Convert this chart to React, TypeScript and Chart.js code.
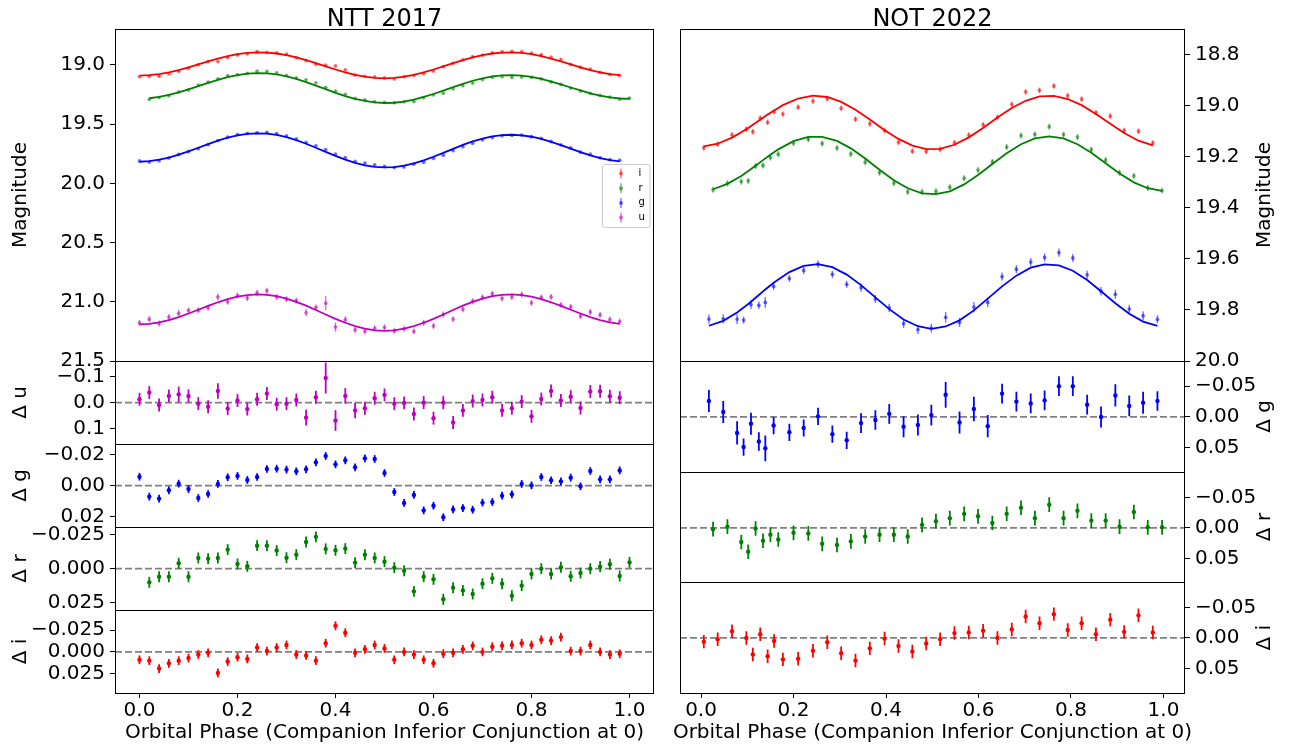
import React, { useEffect, useRef } from 'react';
import { Chart, registerables } from 'chart.js';
Chart.register(...registerables);

const FONT = '"DejaVu Sans", "Liberation Sans", sans-serif';

// ---------------- NTT 2017 (left) ----------------
const nttTitle = 'NTT 2017';
const notTitle = 'NOT 2022';
const xTitle = 'Orbital Phase (Companion Inferior Conjunction at 0)';
const phaseTicks = [0, 0.2, 0.4, 0.6, 0.8, 1.0];
const nttMagTicks = [19.0, 19.5, 20.0, 20.5, 21.0, 21.5];
const nttUTicks = [-0.1, 0, 0.1];
const nttGTicks = [-0.02, 0, 0.02];
const nttRTicks = [-0.025, 0, 0.025];
const nttITicks = [-0.025, 0, 0.025];
const notMagTicks = [18.8, 19.0, 19.2, 19.4, 19.6, 19.8, 20.0];
const notResTicks = [-0.05, 0, 0.05];
const legendBands = ['i', 'r', 'g', 'u'];

const nttPhase = [0.00,0.02,0.04,0.06,0.08,0.10,0.12,0.14,0.16,0.18,0.20,0.22,0.24,0.26,0.28,0.30,0.32,0.34,0.36,0.38,0.40,0.42,0.44,0.46,0.48,0.50,0.52,0.54,0.56,0.58,0.60,0.62,0.64,0.66,0.68,0.70,0.72,0.74,0.76,0.78,0.80,0.82,0.84,0.86,0.88,0.90,0.92,0.94,0.96,0.98];
const nttPhaseR = [0.02,0.04,0.06,0.08,0.10,0.12,0.14,0.16,0.18,0.20,0.22,0.24,0.26,0.28,0.30,0.32,0.34,0.36,0.38,0.40,0.42,0.44,0.46,0.48,0.50,0.52,0.54,0.56,0.58,0.60,0.62,0.64,0.66,0.68,0.70,0.72,0.74,0.76,0.78,0.80,0.82,0.84,0.86,0.88,0.90,0.92,0.94,0.96,0.98,1.00];

const nttIMag = [19.099,19.096,19.096,19.075,19.053,19.027,18.998,18.971,18.971,18.937,18.915,18.906,18.888,18.894,18.898,18.909,18.939,18.963,18.995,19.002,19.008,19.041,19.085,19.096,19.101,19.109,19.118,19.099,19.087,19.072,19.051,19.014,18.986,18.956,18.929,18.917,18.897,18.888,18.885,18.888,18.901,18.912,18.934,18.953,18.994,19.019,19.035,19.062,19.080,19.088];
const nttIModel = [19.090,19.086,19.077,19.062,19.043,19.020,18.995,18.970,18.947,18.926,18.909,18.898,18.893,18.895,18.903,18.917,18.936,18.959,18.985,19.012,19.038,19.063,19.084,19.099,19.109,19.113,19.109,19.099,19.084,19.063,19.038,19.012,18.985,18.959,18.936,18.917,18.903,18.895,18.893,18.898,18.909,18.926,18.947,18.970,18.995,19.020,19.043,19.062,19.077,19.086];
const nttIRes = [0.009,0.010,0.019,0.013,0.010,0.007,0.003,0.001,0.024,0.011,0.006,0.008,-0.005,-0.001,-0.005,-0.008,0.003,0.004,0.010,-0.010,-0.030,-0.022,0.001,-0.003,-0.008,-0.004,0.009,0.000,0.003,0.009,0.013,0.002,0.001,-0.003,-0.007,0.000,-0.006,-0.007,-0.008,-0.010,-0.008,-0.014,-0.013,-0.017,-0.001,-0.001,-0.008,0.000,0.003,0.002];
const nttIErr = 0.005;

const nttGMag = [19.811,19.820,19.809,19.785,19.756,19.731,19.707,19.673,19.638,19.609,19.588,19.578,19.571,19.569,19.580,19.599,19.625,19.654,19.683,19.714,19.754,19.783,19.814,19.829,19.843,19.857,19.866,19.861,19.837,19.821,19.788,19.762,19.723,19.690,19.661,19.632,19.613,19.598,19.594,19.592,19.606,19.619,19.646,19.674,19.701,19.736,19.754,19.782,19.799,19.804];
const nttGModel = [19.817,19.812,19.800,19.782,19.757,19.729,19.699,19.668,19.639,19.614,19.595,19.582,19.577,19.580,19.591,19.609,19.635,19.665,19.699,19.734,19.768,19.799,19.826,19.847,19.860,19.865,19.862,19.850,19.831,19.805,19.775,19.742,19.708,19.675,19.645,19.621,19.603,19.592,19.589,19.594,19.606,19.625,19.649,19.677,19.707,19.736,19.763,19.786,19.803,19.814];
const nttGRes = [-0.0058,0.0071,0.0084,0.0030,-0.0013,0.0022,0.0080,0.0054,-0.0011,-0.0054,-0.0063,-0.0037,-0.0056,-0.0108,-0.0110,-0.0104,-0.0093,-0.0106,-0.0151,-0.0192,-0.0138,-0.0164,-0.0119,-0.0177,-0.0173,-0.0082,0.0041,0.0112,0.0060,0.0160,0.0130,0.0205,0.0154,0.0145,0.0156,0.0110,0.0106,0.0065,0.0056,-0.0011,-0.0002,-0.0056,-0.0035,-0.0028,-0.0052,0.0004,-0.0095,-0.0041,-0.0041,-0.0099];
const nttGErr = 0.0025;

const nttRMag = [19.291,19.275,19.259,19.227,19.211,19.170,19.144,19.117,19.089,19.082,19.072,19.052,19.054,19.067,19.088,19.108,19.125,19.151,19.190,19.221,19.248,19.282,19.294,19.309,19.316,19.318,19.310,19.309,19.276,19.252,19.238,19.201,19.175,19.152,19.123,19.104,19.099,19.105,19.102,19.105,19.118,19.143,19.163,19.195,19.219,19.239,19.257,19.271,19.288,19.280];
const nttRModel = [19.281,19.270,19.253,19.231,19.205,19.178,19.151,19.125,19.103,19.085,19.073,19.068,19.071,19.080,19.096,19.118,19.144,19.174,19.204,19.235,19.262,19.286,19.304,19.316,19.321,19.319,19.309,19.292,19.270,19.245,19.216,19.187,19.159,19.133,19.112,19.097,19.088,19.085,19.090,19.101,19.118,19.140,19.164,19.190,19.215,19.239,19.259,19.274,19.283,19.285];
const nttRRes = [0.0100,0.0059,0.0059,-0.0039,0.0059,-0.0078,-0.0073,-0.0078,-0.0139,-0.0034,-0.0017,-0.0168,-0.0168,-0.0132,-0.0080,-0.0102,-0.0195,-0.0232,-0.0144,-0.0134,-0.0146,-0.0044,-0.0102,-0.0078,-0.0051,-0.0007,0.0015,0.0166,0.0059,0.0078,0.0224,0.0139,0.0159,0.0185,0.0110,0.0071,0.0110,0.0198,0.0124,0.0039,0.0000,0.0039,-0.0010,0.0056,0.0032,0.0000,-0.0015,-0.0032,0.0054,-0.0046];
const nttRErr = 0.004;

const nttUMag = [21.178,21.147,21.183,21.129,21.097,21.073,21.071,21.050,20.959,21.000,20.948,20.968,20.924,20.906,20.959,20.977,20.991,21.091,21.048,21.012,21.213,21.151,21.236,21.249,21.224,21.216,21.245,21.228,21.250,21.177,21.204,21.107,21.146,21.063,20.995,20.963,20.932,20.971,20.959,20.939,21.009,20.963,20.959,21.026,21.044,21.120,21.086,21.111,21.149,21.167];
const nttUModel = [21.191,21.186,21.174,21.155,21.129,21.099,21.067,21.034,21.004,20.977,20.956,20.943,20.937,20.941,20.953,20.973,21.001,21.033,21.069,21.107,21.144,21.177,21.206,21.227,21.241,21.246,21.241,21.227,21.206,21.177,21.144,21.107,21.069,21.033,21.001,20.973,20.953,20.941,20.937,20.943,20.956,20.977,21.004,21.034,21.067,21.099,21.129,21.155,21.174,21.186];
const nttURes = [-0.013,-0.039,0.009,-0.026,-0.032,-0.026,0.004,0.016,-0.045,0.023,-0.008,0.025,-0.013,-0.035,0.006,0.004,-0.010,0.058,-0.021,-0.095,0.069,-0.026,0.030,0.022,-0.017,-0.030,0.004,0.001,0.044,0.000,0.060,0.000,0.077,0.030,-0.006,-0.010,-0.021,0.030,0.022,-0.004,0.053,-0.014,-0.045,-0.008,-0.023,0.021,-0.043,-0.044,-0.025,-0.019];
const nttUErr = [0.025,0.025,0.025,0.025,0.03,0.025,0.025,0.025,0.03,0.025,0.025,0.025,0.025,0.025,0.025,0.025,0.025,0.03,0.025,0.06,0.04,0.03,0.03,0.025,0.025,0.025,0.025,0.025,0.025,0.025,0.025,0.025,0.025,0.025,0.025,0.025,0.025,0.025,0.025,0.025,0.025,0.025,0.025,0.025,0.025,0.025,0.025,0.025,0.025,0.025];

// ---------------- NOT 2022 (right) ----------------
const notGPhase = [0.017,0.048,0.078,0.092,0.108,0.125,0.139,0.157,0.191,0.222,0.253,0.284,0.315,0.346,0.377,0.407,0.438,0.469,0.498,0.529,0.559,0.590,0.620,0.651,0.682,0.713,0.743,0.774,0.804,0.835,0.865,0.896,0.926,0.956,0.987];
const notGMag = [19.836,19.835,19.836,19.840,19.779,19.782,19.771,19.708,19.677,19.646,19.621,19.661,19.700,19.713,19.757,19.792,19.854,19.877,19.871,19.829,19.849,19.789,19.771,19.670,19.641,19.613,19.595,19.576,19.597,19.663,19.727,19.739,19.797,19.823,19.837];
const notGModel = [19.862,19.843,19.810,19.791,19.768,19.742,19.720,19.694,19.652,19.628,19.621,19.633,19.662,19.703,19.751,19.797,19.838,19.864,19.874,19.865,19.841,19.802,19.756,19.708,19.666,19.635,19.622,19.626,19.647,19.683,19.727,19.774,19.815,19.846,19.863];
const notGRes = [-0.026,-0.008,0.026,0.049,0.011,0.040,0.051,0.014,0.025,0.018,-0.001,0.028,0.038,0.010,0.005,-0.005,0.016,0.013,-0.003,-0.036,0.009,-0.013,0.015,-0.038,-0.025,-0.022,-0.027,-0.050,-0.050,-0.020,0.000,-0.035,-0.018,-0.023,-0.026];
const notGErr = [0.018,0.018,0.019,0.014,0.018,0.015,0.021,0.014,0.014,0.014,0.014,0.014,0.014,0.016,0.016,0.016,0.017,0.017,0.017,0.021,0.018,0.020,0.018,0.016,0.016,0.016,0.016,0.016,0.016,0.016,0.017,0.018,0.017,0.018,0.016];

const notRPhase = [0.026,0.057,0.087,0.102,0.118,0.134,0.150,0.167,0.200,0.232,0.262,0.294,0.324,0.355,0.386,0.417,0.447,0.478,0.508,0.538,0.569,0.599,0.630,0.661,0.692,0.722,0.753,0.784,0.814,0.844,0.875,0.905,0.936,0.966,0.997];
const notRMag = [19.330,19.305,19.298,19.295,19.237,19.235,19.204,19.191,19.147,19.132,19.149,19.167,19.190,19.222,19.263,19.304,19.338,19.338,19.336,19.320,19.285,19.253,19.221,19.163,19.118,19.113,19.083,19.114,19.124,19.173,19.214,19.263,19.276,19.323,19.333];
const notRModel = [19.328,19.307,19.276,19.257,19.236,19.214,19.193,19.172,19.140,19.123,19.123,19.139,19.168,19.208,19.252,19.293,19.324,19.344,19.347,19.336,19.309,19.272,19.229,19.187,19.152,19.129,19.121,19.129,19.152,19.185,19.226,19.266,19.301,19.324,19.334];
const notRRes = [0.002,-0.002,0.023,0.039,0.001,0.021,0.011,0.019,0.008,0.009,0.026,0.028,0.022,0.014,0.011,0.011,0.014,-0.005,-0.011,-0.016,-0.023,-0.019,-0.008,-0.023,-0.033,-0.016,-0.038,-0.016,-0.028,-0.012,-0.012,-0.002,-0.026,-0.001,-0.001];
const notRErr = 0.012;

const notIPhase = [0.006,0.036,0.067,0.098,0.112,0.128,0.144,0.158,0.177,0.210,0.242,0.273,0.303,0.334,0.365,0.397,0.427,0.457,0.487,0.517,0.548,0.579,0.610,0.641,0.672,0.702,0.732,0.763,0.793,0.823,0.854,0.885,0.915,0.946,0.977];
const notIMag = [19.166,19.152,19.115,19.093,19.103,19.050,19.066,19.025,19.034,19.007,18.983,18.974,19.011,19.054,19.072,19.098,19.144,19.179,19.180,19.172,19.146,19.116,19.076,19.047,18.996,18.947,18.941,18.924,18.962,18.975,19.028,19.042,19.098,19.101,19.147];
const notIModel = [19.160,19.150,19.126,19.093,19.076,19.056,19.036,19.020,18.999,18.973,18.962,18.967,18.986,19.017,19.055,19.097,19.131,19.157,19.171,19.170,19.154,19.125,19.088,19.047,19.010,18.982,18.965,18.963,18.975,18.999,19.034,19.072,19.108,19.138,19.156];
const notIRes = [0.006,0.002,-0.011,0.000,0.027,-0.006,0.030,0.005,0.035,0.034,0.021,0.007,0.025,0.037,0.017,0.001,0.013,0.022,0.009,0.002,-0.008,-0.009,-0.012,0.000,-0.014,-0.035,-0.024,-0.039,-0.013,-0.024,-0.006,-0.030,-0.010,-0.037,-0.009];
const notIErr = 0.011;

// ---------------- styling ----------------
const COL: Record<string, string> = { i: '#ff0000', r: '#008000', g: '#0000ff', u: '#bf00bf' };
const MAIN_ALPHA = 0.55;

function rgba(hex: string, a: number) {
  const n = parseInt(hex.slice(1), 16);
  return `rgba(${(n >> 16) & 255},${(n >> 8) & 255},${n & 255},${a})`;
}
function fmt(v: number, d: number) {
  const s = Math.abs(v).toFixed(d);
  return v < -1e-12 ? '\u2212' + s : s;
}
function pts(xs: number[], ys: number[]) {
  return xs.map((x, k) => ({ x, y: ys[k] }));
}
function scatterDs(yAxisID: string, xs: number[], ys: number[], err: any, band: string, main: boolean) {
  const c = main ? rgba(COL[band], MAIN_ALPHA) : COL[band];
  return {
    type: 'scatter', xAxisID: 'x', yAxisID, data: pts(xs, ys), showLine: false,
    pointRadius: main ? 1.9 : 2.2, pointHoverRadius: main ? 1.9 : 2.2,
    pointBackgroundColor: c, pointBorderWidth: 0, pointBorderColor: c,
    errors: err, errColor: c, errWidth: main ? 1.4 : 1.8,
  };
}
function modelDs(yAxisID: string, xs: number[], ys: number[], band: string) {
  return {
    type: 'scatter', xAxisID: 'x', yAxisID, data: pts(xs, ys), showLine: true,
    borderColor: COL[band], borderWidth: 1.8, pointRadius: 0, pointHoverRadius: 0, tension: 0, fill: false,
  };
}

type Panel = { id: string; label: string; ticks: number[]; dec: number; min: number; max: number; weight: number; sw: number; residual: boolean };

function makeScales(panels: Panel[], side: 'left' | 'right', axisWidth: number, xmin: number, xmax: number) {
  const scales: any = {
    x: {
      type: 'linear', axis: 'x', position: 'bottom', min: xmin, max: xmax, bounds: 'data',
      afterBuildTicks: (s: any) => { s.ticks = phaseTicks.map((v) => ({ value: v })); },
      afterFit: (s: any) => { s.height = 59; },
      grid: { drawOnChartArea: false, drawTicks: true, tickLength: 5, tickColor: '#000', tickWidth: 1 },
      border: { display: false },
      ticks: { autoSkip: false, maxRotation: 0, padding: 1, color: '#000', font: { family: FONT, size: 20 }, callback: (v: any) => fmt(Number(v), 1) },
    },
  };
  for (const p of panels) {
    scales[p.id] = {
      type: 'linear', axis: 'y', position: side, stack: 'col', stackWeight: p.sw, weight: p.weight,
      reverse: true, min: p.min, max: p.max, bounds: 'data',
      afterBuildTicks: (s: any) => { s.ticks = p.ticks.map((v) => ({ value: v })); },
      afterFit: (s: any) => { s.width = axisWidth; },
      grid: { drawOnChartArea: false, drawTicks: true, tickLength: 5, tickColor: '#000', tickWidth: 1 },
      border: { display: false },
      ticks: { autoSkip: false, padding: 5, color: '#000', font: { family: FONT, size: 20 }, callback: (v: any) => fmt(Number(v), p.dec) },
    };
  }
  return scales;
}

function decorPlugin(cfg: { panels: Panel[]; title: string; yTitleX: number; legend: boolean }) {
  return {
    id: 'decor',
    beforeDatasetsDraw(chart: any) {
      const { ctx, chartArea } = chart;
      ctx.save();
      ctx.strokeStyle = '#808080';
      ctx.lineWidth = 1.8;
      ctx.setLineDash([7, 3]);
      for (const p of cfg.panels) {
        if (!p.residual) continue;
        const y = chart.scales[p.id].getPixelForValue(0);
        ctx.beginPath();
        ctx.moveTo(chartArea.left, y);
        ctx.lineTo(chartArea.right, y);
        ctx.stroke();
      }
      ctx.restore();
    },
    beforeDatasetDraw(chart: any, args: any) {
      const ds = chart.data.datasets[args.index];
      if (ds.errors == null) return;
      const meta = args.meta;
      const ys = chart.scales[meta.yAxisID];
      const { ctx, chartArea } = chart;
      ctx.save();
      ctx.beginPath();
      ctx.rect(chartArea.left, ys.top, chartArea.right - chartArea.left, ys.bottom - ys.top);
      ctx.clip();
      ctx.strokeStyle = ds.errColor;
      ctx.lineWidth = ds.errWidth;
      meta.data.forEach((el: any, k: number) => {
        const v = ds.data[k].y;
        const e = Array.isArray(ds.errors) ? ds.errors[k] : ds.errors;
        ctx.beginPath();
        ctx.moveTo(el.x, ys.getPixelForValue(v - e));
        ctx.lineTo(el.x, ys.getPixelForValue(v + e));
        ctx.stroke();
      });
      ctx.restore();
    },
    afterDraw(chart: any) {
      const { ctx, chartArea } = chart;
      ctx.save();
      // frames
      ctx.strokeStyle = '#000';
      ctx.lineWidth = 1;
      const L = Math.round(chartArea.left), R = Math.round(chartArea.right);
      for (const p of cfg.panels) {
        const s = chart.scales[p.id];
        const T = Math.round(s.top), B = Math.round(s.bottom);
        ctx.strokeRect(L + 0.5, T + 0.5, R - L - 1, B - T);
      }
      const cx = (chartArea.left + chartArea.right) / 2;
      ctx.fillStyle = '#000';
      ctx.textAlign = 'center';
      ctx.textBaseline = 'alphabetic';
      ctx.font = `24px ${FONT}`;
      ctx.fillText(cfg.title, cx, 26);
      ctx.font = `20px ${FONT}`;
      ctx.textBaseline = 'middle';
      ctx.fillText(xTitle, cx, 733);
      for (const p of cfg.panels) {
        const s = chart.scales[p.id];
        ctx.save();
        ctx.translate(cfg.yTitleX, (s.top + s.bottom) / 2);
        ctx.rotate(-Math.PI / 2);
        ctx.fillText(p.label, 0, 0);
        ctx.restore();
      }
      if (cfg.legend) {
        const main = chart.scales[cfg.panels[0].id];
        const x0 = chartArea.right - 52.5, y0 = main.top + 135, w = 47.5, h = 63;
        ctx.fillStyle = 'rgba(255,255,255,0.8)';
        ctx.strokeStyle = '#cccccc';
        ctx.lineWidth = 1;
        ctx.beginPath();
        (ctx as any).roundRect(Math.round(x0) + 0.5, Math.round(y0) + 0.5, w, h, 2);
        ctx.fill();
        ctx.stroke();
        ctx.font = `10px ${FONT}`;
        ctx.textAlign = 'left';
        ctx.textBaseline = 'middle';
        legendBands.forEach((b, k) => {
          const yy = y0 + 9.5 + k * 14.7;
          const c = rgba(COL[b], MAIN_ALPHA);
          ctx.strokeStyle = c;
          ctx.lineWidth = 1.4;
          ctx.beginPath();
          ctx.moveTo(x0 + 19.5, yy - 5);
          ctx.lineTo(x0 + 19.5, yy + 5);
          ctx.stroke();
          ctx.fillStyle = c;
          ctx.beginPath();
          ctx.arc(x0 + 19.5, yy, 2, 0, Math.PI * 2);
          ctx.fill();
          ctx.fillStyle = '#000';
          ctx.fillText(b, x0 + 37, yy);
        });
      }
      ctx.restore();
    },
  };
}

function buildLeft(): any {
  const panels: Panel[] = [
    { id: 'yMain', label: 'Magnitude', ticks: nttMagTicks, dec: 1, min: 18.696, max: 21.5, weight: 5, sw: 4, residual: false },
    { id: 'yU', label: '\u0394 u', ticks: nttUTicks, dec: 1, min: -0.161, max: 0.160, weight: 4, sw: 1, residual: true },
    { id: 'yG', label: '\u0394 g', ticks: nttGTicks, dec: 2, min: -0.027, max: 0.0268, weight: 3, sw: 1, residual: true },
    { id: 'yR', label: '\u0394 r', ticks: nttRTicks, dec: 3, min: -0.0304, max: 0.0302, weight: 2, sw: 1, residual: true },
    { id: 'yI', label: '\u0394 i', ticks: nttITicks, dec: 3, min: -0.048, max: 0.047, weight: 1, sw: 1, residual: true },
  ];
  const datasets = [
    modelDs('yMain', nttPhase, nttIModel, 'i'),
    modelDs('yMain', nttPhaseR, nttRModel, 'r'),
    modelDs('yMain', nttPhase, nttGModel, 'g'),
    modelDs('yMain', nttPhase, nttUModel, 'u'),
    scatterDs('yMain', nttPhase, nttIMag, nttIErr, 'i', true),
    scatterDs('yMain', nttPhaseR, nttRMag, nttRErr, 'r', true),
    scatterDs('yMain', nttPhase, nttGMag, nttGErr, 'g', true),
    scatterDs('yMain', nttPhase, nttUMag, nttUErr, 'u', true),
    scatterDs('yU', nttPhase, nttURes, nttUErr, 'u', false),
    scatterDs('yG', nttPhase, nttGRes, nttGErr, 'g', false),
    scatterDs('yR', nttPhaseR, nttRRes, nttRErr, 'r', false),
    scatterDs('yI', nttPhase, nttIRes, nttIErr, 'i', false),
  ];
  return {
    type: 'scatter',
    data: { datasets },
    options: {
      animation: false, responsive: false, maintainAspectRatio: false, devicePixelRatio: 1, events: [],
      layout: { padding: { left: 0, right: 11, top: 29, bottom: 0 } },
      plugins: { legend: { display: false }, tooltip: { enabled: false }, title: { display: false } },
      scales: makeScales(panels, 'left', 115, -0.05, 1.05),
    },
    plugins: [decorPlugin({ panels, title: nttTitle, yTitleX: 21, legend: true })],
  };
}

function buildRight(): any {
  const panels: Panel[] = [
    { id: 'yMain', label: 'Magnitude', ticks: notMagTicks, dec: 1, min: 18.701, max: 20.0, weight: 1, sw: 3, residual: false },
    { id: 'yG', label: '\u0394 g', ticks: notResTicks, dec: 2, min: -0.091, max: 0.089, weight: 2, sw: 1, residual: true },
    { id: 'yR', label: '\u0394 r', ticks: notResTicks, dec: 2, min: -0.092, max: 0.089, weight: 3, sw: 1, residual: true },
    { id: 'yI', label: '\u0394 i', ticks: notResTicks, dec: 2, min: -0.091, max: 0.090, weight: 4, sw: 1, residual: true },
  ];
  const datasets = [
    modelDs('yMain', notIPhase, notIModel, 'i'),
    modelDs('yMain', notRPhase, notRModel, 'r'),
    modelDs('yMain', notGPhase, notGModel, 'g'),
    scatterDs('yMain', notIPhase, notIMag, notIErr, 'i', true),
    scatterDs('yMain', notRPhase, notRMag, notRErr, 'r', true),
    scatterDs('yMain', notGPhase, notGMag, notGErr, 'g', true),
    scatterDs('yG', notGPhase, notGRes, notGErr, 'g', false),
    scatterDs('yR', notRPhase, notRRes, notRErr, 'r', false),
    scatterDs('yI', notIPhase, notIRes, notIErr, 'i', false),
  ];
  return {
    type: 'scatter',
    data: { datasets },
    options: {
      animation: false, responsive: false, maintainAspectRatio: false, devicePixelRatio: 1, events: [],
      layout: { padding: { left: 15, right: 0, top: 29, bottom: 0 } },
      plugins: { legend: { display: false }, tooltip: { enabled: false }, title: { display: false } },
      scales: makeScales(panels, 'right', 109, -0.0455, 1.0466),
    },
    plugins: [decorPlugin({ panels, title: notTitle, yTitleX: 600, legend: false })],
  };
}

function ChartCanvas({ build, left, width }: { build: () => any; left: number; width: number }) {
  const ref = useRef<HTMLCanvasElement>(null);
  useEffect(() => {
    Chart.defaults.font.family = FONT;
    const chart = new Chart(ref.current as HTMLCanvasElement, build());
    return () => chart.destroy();
  }, []);
  return (
    <canvas
      ref={ref}
      width={width}
      height={752}
      style={{ position: 'absolute', left, top: 0, width, height: 752 }}
    />
  );
}

export default function App() {
  return (
    <div style={{ position: 'fixed', left: 0, top: 0, width: 1294, height: 752, background: '#ffffff', overflow: 'hidden' }}>
      <ChartCanvas build={buildLeft} left={0} width={665} />
      <ChartCanvas build={buildRight} left={665} width={629} />
    </div>
  );
}
